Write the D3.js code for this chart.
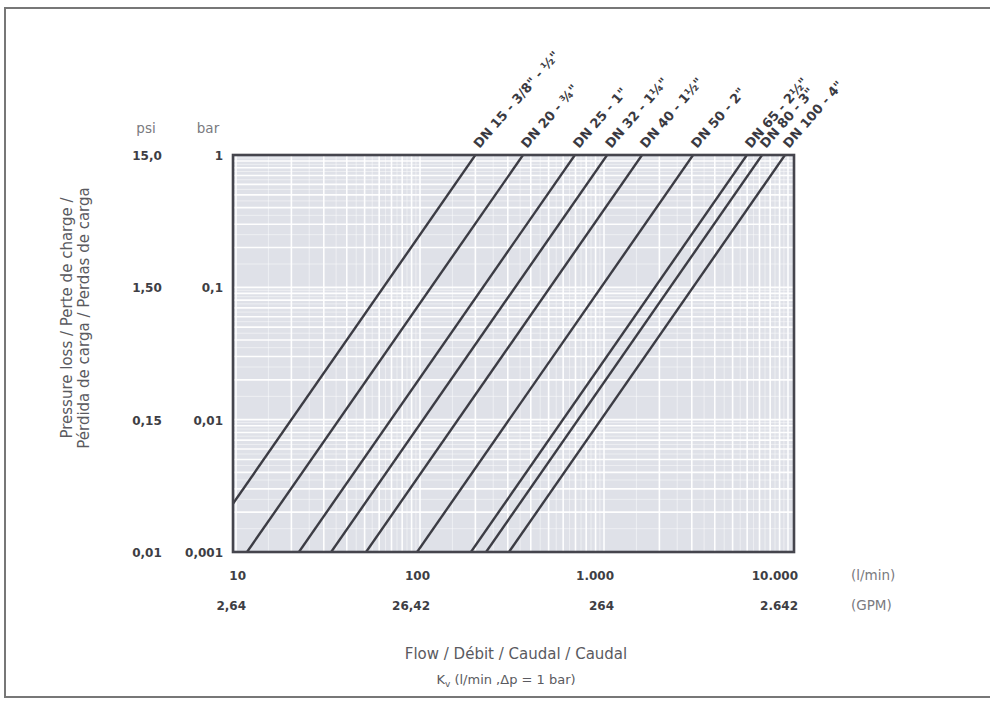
<!DOCTYPE html>
<meta charset="utf-8">
<style>
body {
  margin: 0;
  background: #fff;
  font-family: "DejaVu Sans", sans-serif;
}
.frame {
  fill: none;
  stroke: #777;
  stroke-width: 2;
}
.tick {
  font-weight: 700;
  font-size: 12px;
  fill: #3e3e44;
}
.unit {
  font-size: 13.5px;
  fill: #7a7a80;
}
.title {
  font-size: 15px;
  fill: #5a5a60;
}
.dn {
  font-weight: 700;
  font-size: 13px;
  fill: #3a3a42;
}
</style>
<body>
<script src="https://d3js.org/d3.v7.min.js"></script>
<script>

var width = 990,
    height = 701;

var dnLabels = ["DN 15 - 3/8\" - ½\"", "DN 20 - ¾\"", "DN 25 - 1\"", "DN 32 - 1¼\"",
                "DN 40 - 1½\"", "DN 50 - 2\"", "DN 65 - 2½\"", "DN 80 - 3\"", "DN 100 - 4\""];
var kvValues = [200, 363, 695, 1040, 1610, 3050, 5980, 7230, 9630];

var barTicks = [1, 0.1, 0.01, 0.001];
var barLabels = ["1", "0,1", "0,01", "0,001"];
var psiLabels = ["15,0", "1,50", "0,15", "0,01"];

var flowTicks = [10, 100, 1000, 10000];
var flowLabels = ["10", "100", "1.000", "10.000"];
var gpmLabels = ["2,64", "26,42", "264", "2.642"];

var x = d3.scaleLog().domain([10, 10000]).range([236, 788]);
var y = d3.scaleLog().domain([0.001, 1]).range([552, 155]);

// plot box runs slightly beyond the labelled decades
var xMin = x.invert(233), xMax = x.invert(794);

var svg = d3.select("body").append("svg")
    .attr("width", width)
    .attr("height", height);

svg.append("rect")
    .attr("class", "frame")
    .attr("x", 5).attr("y", 8)
    .attr("width", 990).attr("height", 689);

var plot = svg.append("g");

plot.append("rect")
    .attr("x", x(xMin)).attr("y", y(1))
    .attr("width", x(xMax) - x(xMin))
    .attr("height", y(0.001) - y(1))
    .attr("fill", "#dfe1e8");

// log grid, white lines
var xGrid = [];
[1, 10, 100, 1000, 10000].forEach(function(d) {
  for (var k = 1; k < 10; k += 0.5) {
    var v = d * k;
    if (v > xMin && v < xMax) xGrid.push({v: v, major: k % 1 === 0});
  }
});
var yGrid = [];
[0.001, 0.01, 0.1].forEach(function(d) {
  for (var k = 1; k < 10; k += 0.5) {
    yGrid.push({v: d * k, major: k % 1 === 0});
  }
});

plot.selectAll(".vgrid")
    .data(xGrid)
  .enter().append("line")
    .attr("class", "vgrid")
    .attr("x1", function(d) { return x(d.v); })
    .attr("x2", function(d) { return x(d.v); })
    .attr("y1", y(1)).attr("y2", y(0.001))
    .attr("stroke", "#fff")
    .attr("stroke-opacity", function(d) { return d.major ? 0.95 : 0.6; })
    .attr("stroke-width", function(d) { return d.major ? 1.6 : 0.8; });

plot.selectAll(".hgrid")
    .data(yGrid)
  .enter().append("line")
    .attr("class", "hgrid")
    .attr("y1", function(d) { return y(d.v); })
    .attr("y2", function(d) { return y(d.v); })
    .attr("x1", x(xMin)).attr("x2", x(xMax))
    .attr("stroke", "#fff")
    .attr("stroke-opacity", function(d) { return d.major ? 0.95 : 0.6; })
    .attr("stroke-width", function(d) { return d.major ? 1.6 : 0.8; });

// dp = (Q / Kv)^2, clipped to the plot box
svg.append("clipPath").attr("id", "clip")
  .append("rect")
    .attr("x", x(xMin)).attr("y", y(1))
    .attr("width", x(xMax) - x(xMin))
    .attr("height", y(0.001) - y(1));

var line = d3.line()
    .x(function(d) { return x(d[0]); })
    .y(function(d) { return y(d[1]); });

plot.append("g")
    .attr("clip-path", "url(#clip)")
  .selectAll(".kv")
    .data(kvValues)
  .enter().append("path")
    .attr("class", "kv")
    .attr("d", function(kv) {
      var q0 = kv * Math.sqrt(0.0005), q1 = kv * Math.sqrt(1.2);
      return line([[q0, (q0 / kv) * (q0 / kv)], [q1, (q1 / kv) * (q1 / kv)]]);
    })
    .attr("fill", "none")
    .attr("stroke", "#3c3c44")
    .attr("stroke-width", 2.4);

plot.append("rect")
    .attr("x", x(xMin)).attr("y", y(1))
    .attr("width", x(xMax) - x(xMin))
    .attr("height", y(0.001) - y(1))
    .attr("fill", "none")
    .attr("stroke", "#45454d")
    .attr("stroke-width", 2.6);

// DN labels at the top end of each line
svg.selectAll(".dn")
    .data(kvValues)
  .enter().append("text")
    .attr("class", "dn")
    .attr("transform", function(d) { return "translate(" + (x(d) + 4) + "," + (y(1) - 6) + ") rotate(-49)"; })
    .text(function(d, i) { return dnLabels[i]; });

// y tick labels
svg.selectAll(".bar")
    .data(barTicks)
  .enter().append("text")
    .attr("class", "tick")
    .attr("x", 223)
    .attr("y", function(d) { return y(d) + 5; })
    .attr("text-anchor", "end")
    .text(function(d, i) { return barLabels[i]; });

svg.selectAll(".psi")
    .data(barTicks)
  .enter().append("text")
    .attr("class", "tick")
    .attr("x", 147)
    .attr("y", function(d) { return y(d) + 5; })
    .attr("text-anchor", "middle")
    .text(function(d, i) { return psiLabels[i]; });

svg.append("text").attr("class", "unit").attr("x", 146).attr("y", 133).attr("text-anchor", "middle").text("psi");
svg.append("text").attr("class", "unit").attr("x", 208).attr("y", 133).attr("text-anchor", "middle").text("bar");

// x tick labels
svg.selectAll(".flow")
    .data(flowTicks)
  .enter().append("text")
    .attr("class", "tick")
    .attr("x", function(d) { return x(d) + 10; })
    .attr("y", 580)
    .attr("text-anchor", "end")
    .text(function(d, i) { return flowLabels[i]; });

svg.selectAll(".gpm")
    .data(flowTicks)
  .enter().append("text")
    .attr("class", "tick")
    .attr("x", function(d) { return x(d) + 10; })
    .attr("y", 610)
    .attr("text-anchor", "end")
    .text(function(d, i) { return gpmLabels[i]; });

svg.append("text").attr("class", "unit").attr("x", 851).attr("y", 580).text("(l/min)");
svg.append("text").attr("class", "unit").attr("x", 851).attr("y", 610).text("(GPM)");

// axis titles
svg.append("text").attr("class", "title")
    .attr("x", 516).attr("y", 659).attr("text-anchor", "middle")
    .text("Flow / Débit / Caudal / Caudal");

var kvt = svg.append("text").attr("class", "title")
    .attr("x", 506).attr("y", 684).attr("text-anchor", "middle")
    .style("font-size", "13px");
kvt.append("tspan").text("K");
kvt.append("tspan").attr("dy", 3).style("font-size", "9px").text("v");
kvt.append("tspan").attr("dy", -3).text(" (l/min ,Δp = 1 bar)");

var yt = svg.append("text").attr("class", "title")
    .attr("transform", "translate(72,318) rotate(-90)")
    .attr("text-anchor", "middle");
yt.append("tspan").attr("x", 0).attr("y", 0).text("Pressure loss / Perte de charge /");
yt.append("tspan").attr("x", 0).attr("y", 17).text("Pérdida de carga / Perdas de carga");

</script>
